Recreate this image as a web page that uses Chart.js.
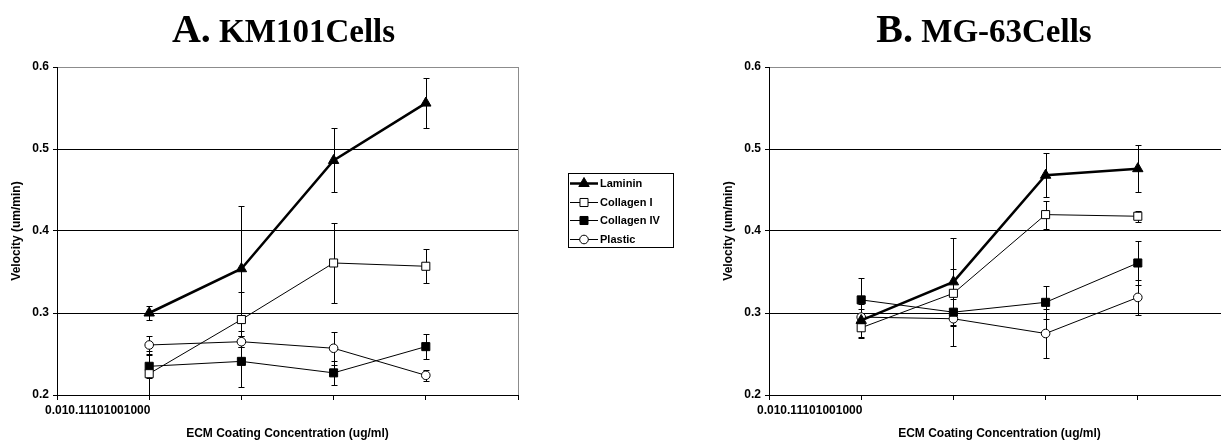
<!DOCTYPE html>
<html>
<head>
<meta charset="utf-8">
<script src="https://cdn.jsdelivr.net/npm/chart.js@4"></script>
<style>
  html, body { margin: 0; padding: 0; background: #fff; }
  body { width: 1221px; height: 443px; position: relative; overflow: hidden; }
  #chart-a { position: absolute; left: 0; top: 0; }
  #chart-b { position: absolute; left: 700px; top: 0; }
</style>
</head>
<body>
<canvas id="chart-a" width="700" height="443"></canvas>
<canvas id="chart-b" width="568" height="443"></canvas>
<script>
// tick labels as they appear (squashed together under the first category)
const xTickLabels = ['0.01', '0.1', '1', '10', '100', '1000'];
const xPositions = [1, 2, 3, 4];
const seriesNames = ['Laminin', 'Collagen I', 'Collagen IV', 'Plastic'];

// A. KM101 cells
const km101Laminin = [0.300, 0.354, 0.486, 0.556];
const km101LamininErr = [0.008, 0.076, 0.039, 0.031];
const km101Collagen1 = [0.226, 0.292, 0.361, 0.357];
const km101Collagen1Err = [0.028, 0.034, 0.049, 0.021];
const km101Collagen4 = [0.235, 0.241, 0.227, 0.259];
const km101Collagen4Err = [0.014, 0.031, 0.015, 0.015];
const km101Plastic = [0.261, 0.265, 0.257, 0.224];
const km101PlasticErr = [0.011, 0.007, 0.020, 0.007];

// B. MG-63 cells
const mg63Laminin = [0.291, 0.338, 0.468, 0.476];
const mg63LamininErr = [0.020, 0.054, 0.027, 0.029];
const mg63Collagen1 = [0.282, 0.324, 0.420, 0.418];
const mg63Collagen1Err = [0.012, 0.030, 0.017, 0.007];
const mg63Collagen4 = [0.316, 0.301, 0.313, 0.361];
const mg63Collagen4Err = [0.027, 0.016, 0.020, 0.027];
const mg63Plastic = [0.295, 0.293, 0.275, 0.319];
const mg63PlasticErr = [0.010, 0.033, 0.030, 0.021];

const seriesStyles = [
  { pointStyle: 'triangle', fill: '#000', lineWidth: 2.5, radius: 6 },
  { pointStyle: 'rect', fill: '#fff', lineWidth: 1, radius: 5.7 },
  { pointStyle: 'rect', fill: '#000', lineWidth: 1, radius: 5.7 },
  { pointStyle: 'circle', fill: '#fff', lineWidth: 1, radius: 4.3 }
];

const sansFont = '"Liberation Sans", Arial, sans-serif';

const makeDatasets = (values, errors) => {
  return seriesNames.map((name, i) => {
    const style = seriesStyles[i];
    return {
      label: name,
      data: xPositions.map((x, j) => ({ x, y: values[i][j] })),
      errors: errors[i],
      borderColor: '#000',
      borderWidth: style.lineWidth,
      pointStyle: style.pointStyle,
      pointRadius: style.radius,
      pointBackgroundColor: style.fill,
      pointBorderColor: '#000',
      pointBorderWidth: 1,
      tension: 0
    };
  });
};

const errorBars = {
  id: 'errorBars',
  beforeDatasetsDraw(chart) {
    const { ctx, chartArea, scales: { x, y } } = chart;
    ctx.save();
    ctx.beginPath();
    ctx.rect(chartArea.left, chartArea.top, chartArea.right - chartArea.left, chartArea.bottom - chartArea.top);
    ctx.clip();
    ctx.strokeStyle = '#000';
    ctx.lineWidth = 1;
    chart.data.datasets.forEach(ds => {
      ds.data.forEach((p, j) => {
        const e = ds.errors[j];
        const px = Math.round(x.getPixelForValue(p.x)) + 0.5;
        const top = Math.round(y.getPixelForValue(p.y + e)) + 0.5;
        const bot = Math.round(y.getPixelForValue(p.y - e)) + 0.5;
        ctx.beginPath();
        ctx.moveTo(px, top);
        ctx.lineTo(px, bot);
        ctx.moveTo(px - 3, top);
        ctx.lineTo(px + 3, top);
        ctx.moveTo(px - 3, bot);
        ctx.lineTo(px + 3, bot);
        ctx.stroke();
      });
    });
    ctx.restore();
  }
};

const panelTitle = {
  id: 'panelTitle',
  afterDraw(chart, args, opts) {
    const { ctx } = chart;
    ctx.save();
    ctx.fillStyle = '#000';
    ctx.textBaseline = 'alphabetic';
    ctx.textAlign = 'left';
    ctx.font = 'bold 40px "Liberation Serif", "Times New Roman", serif';
    const w1 = ctx.measureText(opts.letter).width;
    ctx.font = 'bold 33px "Liberation Serif", "Times New Roman", serif';
    const w2 = ctx.measureText(opts.text).width;
    const start = opts.centerX - (w1 + w2) / 2;
    ctx.font = 'bold 40px "Liberation Serif", "Times New Roman", serif';
    ctx.fillText(opts.letter, start, 42);
    ctx.font = 'bold 33px "Liberation Serif", "Times New Roman", serif';
    ctx.fillText(opts.text, start + w1, 42);

    // the category labels end up run together under the first category
    ctx.font = 'bold 12px ' + sansFont;
    ctx.textBaseline = 'middle';
    ctx.fillText(xTickLabels.join(''), chart.chartArea.left - 12, 411);
    ctx.restore();
  }
};

const sideLegend = {
  id: 'sideLegend',
  afterDraw(chart, args, opts) {
    if (!opts.show) return;
    const { ctx } = chart;
    const { x, y, w, h, rowH } = opts;
    ctx.save();
    ctx.strokeStyle = '#000';
    ctx.lineWidth = 1;
    ctx.strokeRect(x + 0.5, y + 0.5, w, h);
    chart.data.datasets.forEach((ds, i) => {
      const cy = Math.round(y + 10 + i * rowH) + 0.5;
      ctx.beginPath();
      ctx.strokeStyle = '#000';
      ctx.lineWidth = ds.borderWidth;
      ctx.moveTo(x + 2, cy);
      ctx.lineTo(x + 30, cy);
      ctx.stroke();
      ctx.fillStyle = ds.pointBackgroundColor;
      ctx.lineWidth = 1;
      Chart.helpers.drawPoint(ctx, { pointStyle: ds.pointStyle, radius: ds.pointRadius, borderWidth: 1, rotation: 0 }, x + 16, cy);
      ctx.fillStyle = '#000';
      ctx.font = 'bold 11px ' + sansFont;
      ctx.textBaseline = 'middle';
      ctx.textAlign = 'left';
      ctx.fillText(ds.label, x + 32, cy);
    });
    ctx.restore();
  }
};

const makeOptions = (letter, text, centerX, padLeft, padRight, showLegend) => ({
  responsive: false,
  animation: false,
  layout: { padding: { top: 67, left: padLeft, right: padRight, bottom: 0 } },
  plugins: {
    legend: { display: false },
    tooltip: { enabled: false },
    panelTitle: { letter, text, centerX },
    sideLegend: { show: showLegend, x: 568, y: 173, w: 105, h: 74, rowH: 18.5 }
  },
  scales: {
    x: {
      type: 'linear',
      min: 0,
      max: 5,
      afterFit: scale => { scale.height = 48; },
      ticks: { stepSize: 1, display: false },
      grid: {
        color: ctx => (ctx.tick && ctx.tick.value === 5 ? '#8c8c8c' : 'rgba(0,0,0,0)'),
        tickColor: '#000',
        tickLength: 5
      },
      border: { color: '#000', width: 1 },
      title: {
        display: true,
        text: 'ECM Coating Concentration (ug/ml)',
        color: '#000',
        font: { family: sansFont, size: 12, weight: 'bold' },
        padding: { top: 0, bottom: 2 }
      }
    },
    y: {
      min: 0.2,
      max: 0.6,
      afterFit: scale => { scale.width = 57; },
      ticks: {
        stepSize: 0.1,
        color: '#000',
        padding: 4,
        font: { family: sansFont, size: 12, weight: 'bold' },
        callback: v => v.toFixed(1)
      },
      grid: {
        color: ctx => (ctx.tick && ctx.tick.value > 0.59 ? '#8c8c8c' : '#000'),
        tickColor: '#000',
        tickLength: 4
      },
      border: { color: '#000', width: 1 },
      title: {
        display: true,
        text: 'Velocity (um/min)',
        color: '#000',
        font: { family: sansFont, size: 12, weight: 'bold' },
        padding: { top: 9, bottom: 0 }
      }
    }
  }
});

const chartA = new Chart(document.getElementById('chart-a').getContext('2d'), {
  type: 'line',
  data: {
    datasets: makeDatasets(
      [km101Laminin, km101Collagen1, km101Collagen4, km101Plastic],
      [km101LamininErr, km101Collagen1Err, km101Collagen4Err, km101PlasticErr]
    )
  },
  options: makeOptions('A.', ' KM101Cells', 283.5, 0, 182, true),
  plugins: [errorBars, panelTitle, sideLegend]
});

const chartB = new Chart(document.getElementById('chart-b').getContext('2d'), {
  type: 'line',
  data: {
    datasets: makeDatasets(
      [mg63Laminin, mg63Collagen1, mg63Collagen4, mg63Plastic],
      [mg63LamininErr, mg63Collagen1Err, mg63Collagen4Err, mg63PlasticErr]
    )
  },
  options: makeOptions('B.', ' MG-63Cells', 284, 12, 38, false),
  plugins: [errorBars, panelTitle, sideLegend]
});
</script>
</body>
</html>
